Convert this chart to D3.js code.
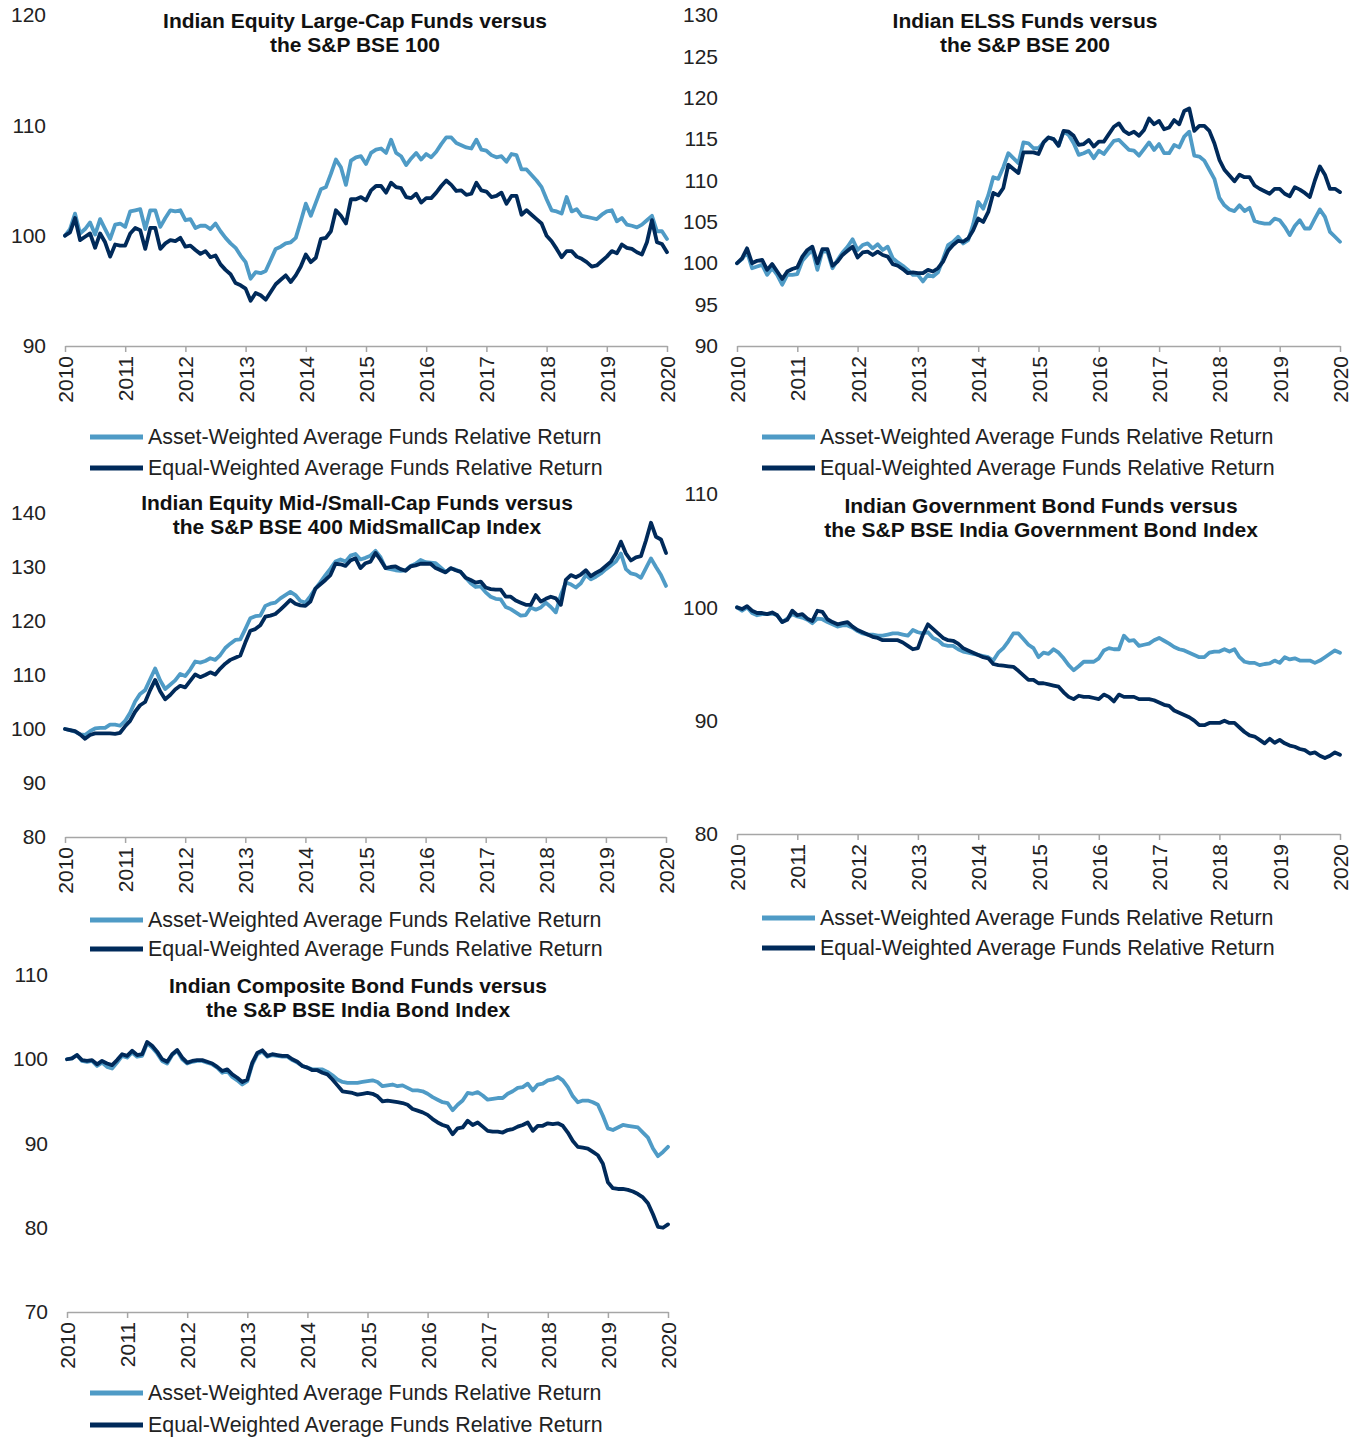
<!DOCTYPE html>
<html><head><meta charset="utf-8">
<script src="https://cdn.jsdelivr.net/npm/d3@7"></script>
<style>
body{margin:0;background:#fff;}
text{font-family:"Liberation Sans",Arial,sans-serif;}
</style>
</head><body>
<svg id="chart" width="1359" height="1437"></svg>
<script>
// ---------- DATA ----------
const yearLabels = ["2010","2011","2012","2013","2014","2015","2016","2017","2018","2019","2020"];
const seriesNames = ["Asset-Weighted Average Funds Relative Return","Equal-Weighted Average Funds Relative Return"];

const titles = [
  ["Indian Equity Large-Cap Funds versus","the S&P BSE 100"],
  ["Indian ELSS Funds versus","the S&P BSE 200"],
  ["Indian Equity Mid-/Small-Cap Funds versus","the S&P BSE 400 MidSmallCap Index"],
  ["Indian Government Bond Funds versus","the S&P BSE India Government Bond Index"],
  ["Indian Composite Bond Funds versus","the S&P BSE India Bond Index"]
];

const yTicksLargeCap = [90,100,110,120];
const yTicksELSS = [90,95,100,105,110,115,120,125,130];
const yTicksMidSmall = [80,90,100,110,120,130,140];
const yTicksGovBond = [80,90,100,110];
const yTicksCompBond = [70,80,90,100,110];

// monthly values, Jan 2010 .. Jan 2020 (121 points)
const largeCapAW = [100.0,100.6,102.0,100.2,100.6,101.2,100.1,101.5,100.6,99.7,101.0,101.1,100.8,102.2,102.3,102.4,100.6,102.3,102.3,100.8,101.6,102.3,102.2,102.3,101.4,101.5,100.7,100.9,100.9,100.6,101.1,100.4,99.8,99.3,98.9,98.2,97.6,96.1,96.7,96.6,96.8,97.8,98.8,99.0,99.3,99.4,99.8,101.3,102.9,101.8,103.0,104.2,104.4,105.6,106.9,106.2,104.6,106.8,107.1,107.2,106.5,107.5,107.8,107.9,107.5,108.7,107.5,107.2,106.4,107.0,107.5,106.9,107.4,107.1,107.6,108.3,108.9,108.9,108.4,108.2,108.0,107.9,108.7,107.8,107.7,107.3,107.1,107.2,106.7,107.4,107.3,106.0,106.0,105.5,105.0,104.4,103.3,102.3,102.2,102.0,103.5,102.2,102.4,101.8,101.7,101.6,101.5,101.9,102.2,102.3,101.3,101.6,101.0,100.9,100.75,101.0,101.4,101.8,100.4,100.4,99.7];
const largeCapEW = [100.0,100.3,101.6,99.6,99.9,100.2,98.9,100.2,99.4,98.1,99.2,99.1,99.1,100.2,100.7,100.5,98.8,100.7,100.7,98.8,99.3,99.6,99.5,99.8,99.0,99.1,98.7,98.35,98.6,98.05,98.2,97.4,96.9,96.5,95.7,95.5,95.2,94.1,94.8,94.6,94.2,94.9,95.6,96.0,96.4,95.8,96.4,97.2,98.3,97.6,98.0,99.7,99.8,100.4,102.3,101.8,101.1,103.3,103.3,103.5,103.2,104.1,104.5,104.5,103.9,104.8,104.4,104.3,103.5,103.4,103.8,103.0,103.4,103.4,103.9,104.5,105.0,104.6,104.05,104.1,103.7,103.8,104.8,104.1,104.0,103.5,103.6,103.9,102.9,103.6,103.6,101.9,102.3,101.9,101.5,101.1,100.0,99.5,98.8,98.05,98.6,98.6,98.1,97.9,97.6,97.2,97.3,97.7,98.1,98.6,98.4,99.2,98.9,98.8,98.5,98.3,99.4,101.4,99.4,99.25,98.5];

const elssAW = [100.0,100.5,101.4,99.4,99.6,99.8,98.6,99.4,98.6,97.4,98.6,98.6,98.7,100.3,101.0,101.6,99.2,101.5,101.4,99.4,100.4,101.3,102.0,102.9,101.6,102.2,102.4,101.8,102.3,101.6,102.0,100.6,100.1,99.7,99.2,98.6,98.6,97.8,98.6,98.4,98.9,100.5,102.2,102.6,103.2,102.4,102.8,104.7,107.4,106.6,108.2,110.4,110.2,111.6,113.3,112.7,112.1,114.6,114.5,113.9,113.9,114.6,115.2,115.0,114.2,115.9,115.5,114.5,113.1,113.3,113.6,112.7,113.6,113.2,114.0,114.8,114.9,114.3,113.7,113.6,113.0,113.8,114.6,113.7,114.4,113.3,113.3,114.3,114.0,115.3,115.9,113.0,112.9,112.4,111.3,110.2,107.9,107.0,106.5,106.3,107.0,106.3,106.7,105.1,104.9,104.8,104.8,105.4,105.2,104.4,103.4,104.5,105.2,104.2,104.2,105.4,106.5,105.6,103.8,103.2,102.6];
const elssEW = [100.0,100.6,101.8,100.0,100.3,100.4,99.2,99.9,99.0,98.1,99.0,99.3,99.5,100.8,101.6,102.0,100.0,101.7,101.7,99.7,100.2,101.0,101.5,102.0,100.7,101.3,101.4,101.0,101.4,101.0,100.8,99.9,99.7,99.3,98.8,98.9,98.8,98.8,99.2,99.0,99.4,100.2,101.5,102.2,102.7,102.6,103.0,104.0,105.4,105.0,106.2,108.5,108.2,109.1,111.9,111.4,110.9,113.4,113.4,113.4,113.2,114.6,115.2,115.0,114.2,116.0,115.9,115.4,114.3,114.4,114.9,114.1,114.7,114.7,115.6,116.5,116.9,116.0,115.6,115.9,115.4,116.1,117.5,116.8,117.2,116.2,116.4,117.3,116.8,118.4,118.7,116.0,116.6,116.6,116.0,114.5,112.5,111.3,110.6,109.9,110.7,110.4,110.4,109.4,109.0,108.7,108.4,109.0,109.0,108.4,108.1,109.2,108.9,108.5,108.0,110.0,111.7,110.7,109.0,109.0,108.6];

const midSmallAW = [100.0,99.8,99.5,99.0,98.9,99.6,100.1,100.2,100.2,100.8,100.8,100.6,101.5,103.0,105.1,106.5,107.2,109.2,111.2,109.0,107.4,108.2,109.0,110.2,109.8,111.0,112.5,112.3,112.6,113.1,112.8,113.7,115.0,115.8,116.5,116.6,118.5,120.5,120.9,121.0,122.8,123.2,123.4,124.2,124.8,125.4,124.8,123.7,123.4,124.6,126.0,127.2,128.5,129.7,131.0,131.4,131.0,132.1,132.4,131.4,131.7,132.1,133.0,131.8,129.8,129.6,129.4,129.3,129.4,130.2,130.6,131.3,130.9,130.8,130.7,129.9,129.1,129.7,129.5,129.1,128.0,127.0,126.3,126.4,125.3,124.5,124.1,124.0,122.6,122.2,121.6,121.0,121.1,122.5,122.1,122.5,123.4,122.6,121.6,124.8,127.1,126.8,126.2,127.0,128.5,127.7,128.2,128.8,129.6,130.3,131.0,132.5,129.6,128.8,128.6,128.0,129.8,131.6,130.0,128.5,126.5];
const midSmallEW = [100.0,99.8,99.6,99.0,98.2,98.9,99.2,99.2,99.2,99.2,99.1,99.3,100.5,101.5,103.2,104.4,105.0,107.2,109.1,107.0,105.5,106.3,107.3,108.0,107.7,108.9,110.1,109.6,110.0,110.5,110.1,111.2,112.1,112.8,113.2,113.6,116.0,118.2,118.5,119.2,120.8,121.0,121.3,122.1,123.0,123.9,123.2,122.9,122.8,123.6,126.0,126.8,127.6,128.5,130.6,130.5,130.2,131.2,131.6,129.8,130.7,131.0,132.6,131.3,129.8,130.0,130.1,129.6,129.3,130.1,130.3,130.6,130.6,130.6,129.8,129.4,129.0,129.8,129.4,129.1,128.0,127.6,127.1,127.3,126.2,125.9,125.8,125.8,124.5,124.5,123.8,123.4,123.0,123.0,124.8,123.6,124.1,124.5,124.2,123.0,127.6,128.5,128.1,128.6,129.4,128.3,128.9,129.4,130.2,131.0,132.5,134.7,132.5,131.2,131.8,132.0,134.9,138.2,135.6,135.1,132.6];

const govBondAW = [100.0,99.7,100.0,99.5,99.3,99.4,99.4,99.45,99.3,98.7,99.0,99.4,99.2,99.1,98.9,98.6,99.0,98.95,98.7,98.5,98.3,98.4,98.4,98.2,97.9,97.7,97.6,97.6,97.5,97.5,97.6,97.7,97.7,97.6,97.5,98.0,97.8,97.7,97.8,97.3,97.1,96.7,96.6,96.6,96.3,96.1,96.0,95.9,95.8,95.7,95.6,95.3,96.0,96.4,97.0,97.7,97.7,97.2,96.7,96.4,95.6,96.0,95.9,96.3,96.0,95.5,94.9,94.45,94.8,95.2,95.2,95.2,95.5,96.2,96.4,96.3,96.3,97.5,97.05,97.1,96.6,96.7,96.8,97.1,97.3,97.05,96.8,96.5,96.3,96.2,96.0,95.8,95.6,95.6,96.0,96.1,96.1,96.3,96.1,96.3,95.6,95.2,95.1,95.1,94.9,95.0,95.05,95.3,95.1,95.6,95.4,95.5,95.3,95.3,95.3,95.1,95.3,95.6,95.9,96.2,96.0];
const govBondEW = [100.0,99.85,100.1,99.7,99.5,99.5,99.4,99.55,99.3,98.7,98.9,99.7,99.3,99.4,99.0,98.8,99.7,99.6,98.95,98.7,98.5,98.6,98.7,98.3,98.0,97.8,97.6,97.4,97.3,97.1,97.1,97.1,97.1,96.9,96.6,96.3,96.4,97.6,98.5,98.1,97.7,97.3,97.1,97.05,96.8,96.4,96.2,96.0,95.8,95.6,95.5,95.0,94.9,94.85,94.8,94.75,94.4,94.0,93.6,93.6,93.3,93.3,93.2,93.1,93.0,92.5,92.1,91.9,92.2,92.1,92.1,92.0,91.9,92.3,92.1,91.7,92.3,92.1,92.1,92.1,91.9,91.9,91.9,91.8,91.6,91.4,91.3,90.9,90.7,90.5,90.3,90.0,89.6,89.6,89.8,89.8,89.8,90.0,89.8,89.8,89.4,89.0,88.7,88.6,88.3,88.0,88.4,88.05,88.3,88.0,87.8,87.7,87.5,87.4,87.1,87.2,86.9,86.7,86.9,87.2,87.0];

const compBondAW = [100.0,100.1,100.5,99.8,99.7,99.8,99.2,99.6,99.1,98.9,99.6,100.4,100.2,100.8,100.3,100.4,101.9,101.4,100.7,99.8,99.5,100.5,101.0,100.0,99.5,99.7,99.8,99.8,99.6,99.4,99.0,98.4,98.6,97.9,97.5,97.0,97.4,99.4,100.6,100.9,100.3,100.5,100.4,100.3,100.3,99.9,99.6,99.2,99.0,98.8,98.8,98.8,98.5,98.1,97.6,97.3,97.2,97.2,97.2,97.3,97.4,97.5,97.3,96.8,96.9,97.0,96.8,96.9,96.6,96.3,96.3,96.2,95.9,95.5,95.2,94.9,94.8,93.95,94.6,95.1,96.0,95.9,96.1,95.7,95.2,95.3,95.4,95.4,95.9,96.2,96.6,96.7,97.1,96.3,97.0,97.1,97.5,97.6,97.9,97.5,96.7,95.6,94.9,95.1,95.1,94.9,94.6,93.3,91.8,91.6,91.9,92.2,92.1,92.0,91.9,91.3,90.7,89.4,88.5,89.0,89.6];
const compBondEW = [100.0,100.1,100.5,99.9,99.8,99.9,99.4,99.8,99.5,99.3,99.9,100.6,100.4,101.0,100.5,100.6,102.05,101.6,100.9,100.0,99.7,100.6,101.1,100.2,99.6,99.8,99.9,99.9,99.7,99.5,99.1,98.6,98.8,98.2,97.8,97.3,97.6,99.6,100.75,101.06,100.4,100.6,100.5,100.4,100.4,100.0,99.7,99.2,99.0,98.7,98.7,98.4,98.2,97.6,96.9,96.2,96.1,96.0,95.8,95.9,96.0,95.9,95.6,95.0,95.1,95.0,94.9,94.8,94.6,94.1,93.9,93.7,93.4,92.9,92.5,92.2,92.0,91.1,91.8,91.9,92.7,92.2,92.5,92.0,91.5,91.4,91.4,91.3,91.6,91.7,92.0,92.2,92.5,91.5,92.1,92.1,92.4,92.3,92.4,92.1,91.3,90.3,89.6,89.5,89.4,89.0,88.6,87.6,85.4,84.7,84.6,84.6,84.5,84.3,84.0,83.6,82.9,81.6,80.1,80.0,80.4];

// ---------- LAYOUT ----------
const colors = ["#4f9bc6","#002a5a"];
const panels = [
  {title:titles[0], aw:largeCapAW, ew:largeCapEW, ticks:yTicksLargeCap, x0:65, x1:667, yT:15, yB:346, tx:355, tY:28, legY:437, legX:90, legGap:31},
  {title:titles[1], aw:elssAW, ew:elssEW, ticks:yTicksELSS, x0:737, x1:1340, yT:15, yB:346, tx:1025, tY:28, legY:437, legX:762, legGap:31},
  {title:titles[2], aw:midSmallAW, ew:midSmallEW, ticks:yTicksMidSmall, x0:65, x1:666, yT:513, yB:837, tx:357, tY:510, legY:920, legX:90, legGap:29},
  {title:titles[3], aw:govBondAW, ew:govBondEW, ticks:yTicksGovBond, x0:737, x1:1340, yT:494, yB:834, tx:1041, tY:513, legY:918, legX:762, legGap:30},
  {title:titles[4], aw:compBondAW, ew:compBondEW, ticks:yTicksCompBond, x0:67, x1:668, yT:975, yB:1312, tx:358, tY:993, legY:1393, legX:90, legGap:32}
];

const svg = d3.select("#chart");
const fs = 21;

panels.forEach(p => {
  const g = svg.append("g");
  const n = p.aw.length;
  const x = d3.scaleLinear().domain([0, n-1]).range([p.x0, p.x1]);
  const y = d3.scaleLinear().domain([d3.min(p.ticks), d3.max(p.ticks)]).range([p.yB, p.yT]);

  // y axis (labels only)
  const ya = g.append("g").attr("transform",`translate(${p.x0},0)`)
    .call(d3.axisLeft(y).tickValues(p.ticks).tickSize(0).tickPadding(19).tickFormat(d3.format("d")));
  ya.select(".domain").remove();
  ya.selectAll("text").attr("font-size",fs).attr("fill","#222").attr("font-family","Liberation Sans, Arial, sans-serif");

  // x axis
  const xa = g.append("g").attr("transform",`translate(0,${p.yB})`)
    .call(d3.axisBottom(x).tickValues(yearLabels.map((d,i)=>i*12)).tickSize(6).tickSizeOuter(0)
      .tickFormat((d,i)=>yearLabels[i]));
  xa.select(".domain").attr("stroke","#a6a6a6").attr("stroke-width",1.5);
  xa.selectAll(".tick line").attr("stroke","#a6a6a6").attr("stroke-width",1.5);
  xa.selectAll("text").attr("font-size",fs).attr("fill","#222")
    .attr("font-family","Liberation Sans, Arial, sans-serif")
    .attr("transform","rotate(-90)").attr("text-anchor","end")
    .attr("x",-10).attr("y",0).attr("dy","0.36em");

  // lines
  const line = d3.line().x((d,i)=>x(i)).y(d=>y(d));
  [p.aw, p.ew].forEach((s,k) => {
    g.append("path").datum(s).attr("d",line).attr("fill","none")
      .attr("stroke",colors[k]).attr("stroke-width",3.8).attr("stroke-linejoin","round").attr("stroke-linecap","round");
  });

  // title
  p.title.forEach((t,k) => {
    g.append("text").attr("x",p.tx).attr("y",p.tY + k*24).attr("text-anchor","middle")
      .attr("font-size",fs).attr("font-weight","bold").attr("fill","#111").text(t);
  });

  // legend
  seriesNames.forEach((nm,k) => {
    const ly = p.legY + k*p.legGap;
    g.append("line").attr("x1",p.legX).attr("x2",p.legX+53).attr("y1",ly).attr("y2",ly)
      .attr("stroke",colors[k]).attr("stroke-width",5);
    g.append("text").attr("x",p.legX+58).attr("y",ly).attr("dy","0.35em")
      .attr("font-size",21.4).attr("fill","#222").text(nm);
  });
});
</script>
</body></html>
